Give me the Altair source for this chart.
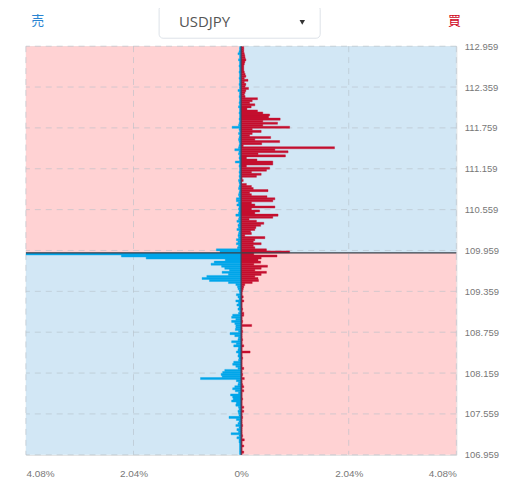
import altair as alt
import pandas as pd

# ---- data -------------------------------------------------------------
y_ticks = [106.959, 107.559, 108.159, 108.759, 109.359, 109.959,
           110.559, 111.159, 111.759, 112.359, 112.959]
x_ticks = [-4.08, -2.04, 0, 2.04, 4.08]
x_grid = [-4.08, -2.04, 2.04, 4.08]
current_price = 109.923
bucket_step = 0.03
top_center = 112.938

# buy (買) percentages per price bucket, top to bottom
buy_pct = [
    0.05, 0.05, 0.05, 0.06, 0.07, 0.075, 0.09, 0.07, 0.06, 0.05,
    0.05, 0.05, 0.06, 0.075, 0.09, 0.06, 0.13, 0.06, 0.09, 0.075,
    0.14, 0.09, 0.075, 0.06, 0.075, 0.31, 0.21, 0.16, 0.26, 0.19,
    0.11, 0.31, 0.41, 0.54, 0.52, 0.74, 0.41, 0.69, 0.41, 0.92,
    0.21, 0.38, 0.21, 0.16, 0.56, 0.26, 0.73, 0.39, 0.04, 1.77,
    0.64, 0.89, 0.32, 0.84, 0.10, 0.30, 0.60, 0.60, 0.10, 0.54,
    0.48, 0.195, 0.38, 0.29, 0.02, 0.04, 0.01, 0.10, 0.195, 0.23,
    0.51, 0.16, 0.195, 0.49, 0.64, 0.60, 0.195, 0.26, 0.64, 0.195,
    0.35, 0.26, 0.70, 0.60, 0.15, 0.29, 0.43, 0.37, 0.28, 0.26,
    0.18, 0.195, 0.07, 0.45, 0.26, 0.23, 0.38, 0.23, 0.26, 0.48,
    0.92,
    0.24, 0.68, 0.38, 0.32, 0.37, 0.24, 0.50, 0.38, 0.26, 0.48,
    0.38, 0.26, 0.32, 0.33, 0.21, 0.07, 0.05, 0.04, 0.03, 0.02,
    0.02, 0.04, 0.02, 0.05, 0.02, 0.02, 0.02, 0.03, 0.02, 0.05,
    0.05, 0.02, 0.02, 0.03, 0.02, 0.20, 0.02, 0.02, 0.03, 0.02,
    0.02, 0.02, 0.03, 0.02, 0.02, 0.05, 0.02, 0.02, 0.17, 0.02,
    0.02, 0.03, 0.02, 0.02, 0.02, 0.02, 0.05, 0.02, 0.02, 0.03,
    0.02, 0.06, 0.02, 0.02, 0.03, 0.05, 0.02, 0.05, 0.02, 0.02,
    0.02, 0.03, 0.02, 0.02, 0.02, 0.05, 0.02, 0.05, 0.02, 0.02,
    0.03, 0.02, 0.02, 0.02, 0.03, 0.02, 0.02, 0.02, 0.02, 0.03,
    0.02, 0.06, 0.02, 0.02, 0.05, 0.02, 0.02, 0.05, 0.02,
]

# sell (売) percentages per price bucket, top to bottom
sell_pct = [
    0.03, 0.03, 0.04, 0.06, 0.03, 0.03, 0.05, 0.03, 0.03, 0.04,
    0.03, 0.03, 0.04, 0.03, 0.03, 0.04, 0.03, 0.03, 0.04, 0.03,
    0.03, 0.06, 0.03, 0.03, 0.04, 0.03, 0.03, 0.04, 0.03, 0.05,
    0.03, 0.03, 0.04, 0.03, 0.03, 0.04, 0.03, 0.04, 0.05, 0.17,
    0.04, 0.03, 0.05, 0.03, 0.04, 0.05, 0.04, 0.03, 0.04, 0.05,
    0.12, 0.04, 0.05, 0.03, 0.04, 0.03, 0.11, 0.03, 0.04, 0.03,
    0.03, 0.04, 0.03, 0.04, 0.03, 0.05, 0.04, 0.03, 0.04, 0.05,
    0.03, 0.04, 0.05, 0.04, 0.09, 0.09, 0.05, 0.08, 0.04, 0.05,
    0.04, 0.05, 0.10, 0.04, 0.05, 0.08, 0.04, 0.06, 0.05, 0.08,
    0.04, 0.05, 0.06, 0.05, 0.09, 0.06, 0.09, 0.05, 0.07, 0.47,
    0.40,
    4.08, 2.27, 1.80, 0.30, 0.51, 0.57, 0.37, 0.31, 0.22, 0.36,
    0.24, 0.65, 0.74, 0.60, 0.24, 0.10, 0.07, 0.06, 0.04, 0.03,
    0.09, 0.06, 0.04, 0.10, 0.05, 0.08, 0.04, 0.06, 0.03, 0.05,
    0.16, 0.18, 0.10, 0.18, 0.12, 0.10, 0.10, 0.11, 0.05, 0.21,
    0.12, 0.05, 0.06, 0.18, 0.09, 0.14, 0.05, 0.06, 0.09, 0.05,
    0.06, 0.04, 0.05, 0.14, 0.16, 0.10, 0.06, 0.31, 0.35, 0.38,
    0.36, 0.77, 0.09, 0.05, 0.06, 0.12, 0.16, 0.11, 0.05, 0.20,
    0.16, 0.15, 0.18, 0.09, 0.10, 0.05, 0.04, 0.06, 0.05, 0.04,
    0.23, 0.09, 0.04, 0.06, 0.10, 0.04, 0.08, 0.05, 0.19, 0.04,
    0.08, 0.04, 0.04, 0.03, 0.03, 0.03, 0.03, 0.03, 0.03,
]

# ---- tables -----------------------------------------------------------
buy_rows, sell_rows = [], []
for i, (b, s) in enumerate(zip(buy_pct, sell_pct)):
    c = top_center - bucket_step * i
    buy_rows.append(dict(p1=c + bucket_step / 2, p2=c - bucket_step / 2, v=b, base=0.0))
    sell_rows.append(dict(p1=c + bucket_step / 2, p2=c - bucket_step / 2, v=-s, base=0.0))
buy_df = pd.DataFrame(buy_rows)
sell_df = pd.DataFrame(sell_rows)

xmin, xmax = x_ticks[0], x_ticks[-1]
ymin, ymax = y_ticks[0], y_ticks[-1]
pink_df = pd.DataFrame([
    dict(x1=xmin, x2=0, y1=current_price, y2=ymax),
    dict(x1=0, x2=xmax, y1=ymin, y2=current_price),
])
blue_df = pd.DataFrame([
    dict(x1=0, x2=xmax, y1=current_price, y2=ymax),
    dict(x1=xmin, x2=0, y1=ymin, y2=current_price),
])
ygrid_df = pd.DataFrame({"p": y_ticks})
xgrid_df = pd.DataFrame({"v": x_grid})
one = pd.DataFrame({"k": [0]})

xs = alt.Scale(domain=[xmin, xmax], nice=False, zero=False)
ys = alt.Scale(domain=[ymin, ymax], nice=False, zero=False)

x_axis = alt.Axis(values=x_ticks, title=None, domain=False, ticks=False, grid=False,
                  labelPadding=14, labelFontSize=10, labelColor="#777",
                  labelFont="Liberation Sans",
                  labelExpr="datum.value == 0 ? '0%' : format(abs(datum.value), '.2f') + '%'")
y_axis = alt.Axis(orient="right", values=y_ticks, format=".3f", title=None, domain=False,
                  ticks=False, grid=False, labelPadding=8, labelFontSize=9.5,
                  labelColor="#777", labelFont="Liberation Sans")

RED = "#c40f2f"
BLUE = "#00a6ea"


def quad_layer(df, color):
    return alt.Chart(df).mark_rect(color=color).encode(
        x=alt.X("x1:Q", scale=xs, axis=x_axis),
        x2="x2:Q",
        y=alt.Y("y1:Q", scale=ys, axis=y_axis),
        y2="y2:Q",
    )


pink = quad_layer(pink_df, "#ffd2d3")
blue = quad_layer(blue_df, "#d2e7f5")

hgrid = alt.Chart(ygrid_df).mark_rule(strokeDash=[6, 5], color="#b4bec8", opacity=0.6).encode(
    y=alt.Y("p:Q", scale=ys, axis=y_axis)
)
vgrid = alt.Chart(xgrid_df).mark_rule(strokeDash=[6, 5], color="#b4bec8", opacity=0.6).encode(
    x=alt.X("v:Q", scale=xs, axis=x_axis)
)


def bar_layer(df, color):
    return alt.Chart(df).mark_rect(clip=True, color=color, stroke=color, strokeWidth=0.4).encode(
        x=alt.X("v:Q", scale=xs, axis=x_axis),
        x2="base:Q",
        y=alt.Y("p1:Q", scale=ys, axis=y_axis),
        y2="p2:Q",
    )


buy_bars = bar_layer(buy_df, RED)
sell_bars = bar_layer(sell_df, BLUE)

zero_line = alt.Chart(one).transform_calculate(z="0").mark_rule(
    color="#2f4558", strokeWidth=1).encode(x=alt.X("z:Q", scale=xs, axis=x_axis))

price_line = alt.Chart(one).transform_calculate(cp=str(current_price)).mark_rule(
    color="#3a4149", strokeWidth=1.2).encode(y=alt.Y("cp:Q", scale=ys, axis=y_axis))

# ---- header -----------------------------------------------------------
box = alt.Chart(one).mark_rect(fill="white", stroke="#dde2e8", strokeWidth=1, cornerRadius=4).encode(
    x=alt.value(134), x2=alt.value(296), y=alt.value(-41), y2=alt.value(-8)
)
title_txt = alt.Chart(one).mark_text(text="USDJPY", align="left", baseline="middle",
                                     fontSize=15, font="Open Sans", color="#555").encode(
    x=alt.value(154), y=alt.value(-24)
)
tri = alt.Chart(one).mark_point(shape="triangle-down", filled=True, size=30, color="#333",
                                opacity=1).encode(x=alt.value(278), y=alt.value(-24))
sell_lbl = alt.Chart(one).mark_text(text="売", fontSize=13, font="Noto Sans CJK JP",
                                    color="#2a84d2", baseline="middle").encode(
    x=alt.value(12), y=alt.value(-25)
)
buy_lbl = alt.Chart(one).mark_text(text="買", fontSize=13, font="Noto Sans CJK JP",
                                   color="#d0021b", baseline="middle").encode(
    x=alt.value(431), y=alt.value(-25)
)

chart = alt.layer(
    pink, blue, hgrid, vgrid, sell_bars, buy_bars, zero_line, price_line,
    box, title_txt, tri, sell_lbl, buy_lbl
).properties(
    width=433, height=411,
    autosize=alt.AutoSizeParams(type="none"),
    padding={"left": 18, "top": 37, "right": 60, "bottom": 30},
).configure_view(stroke=None).configure(background="white")

chart.save("out.html", embed_options={"renderer": "svg", "actions": False})
